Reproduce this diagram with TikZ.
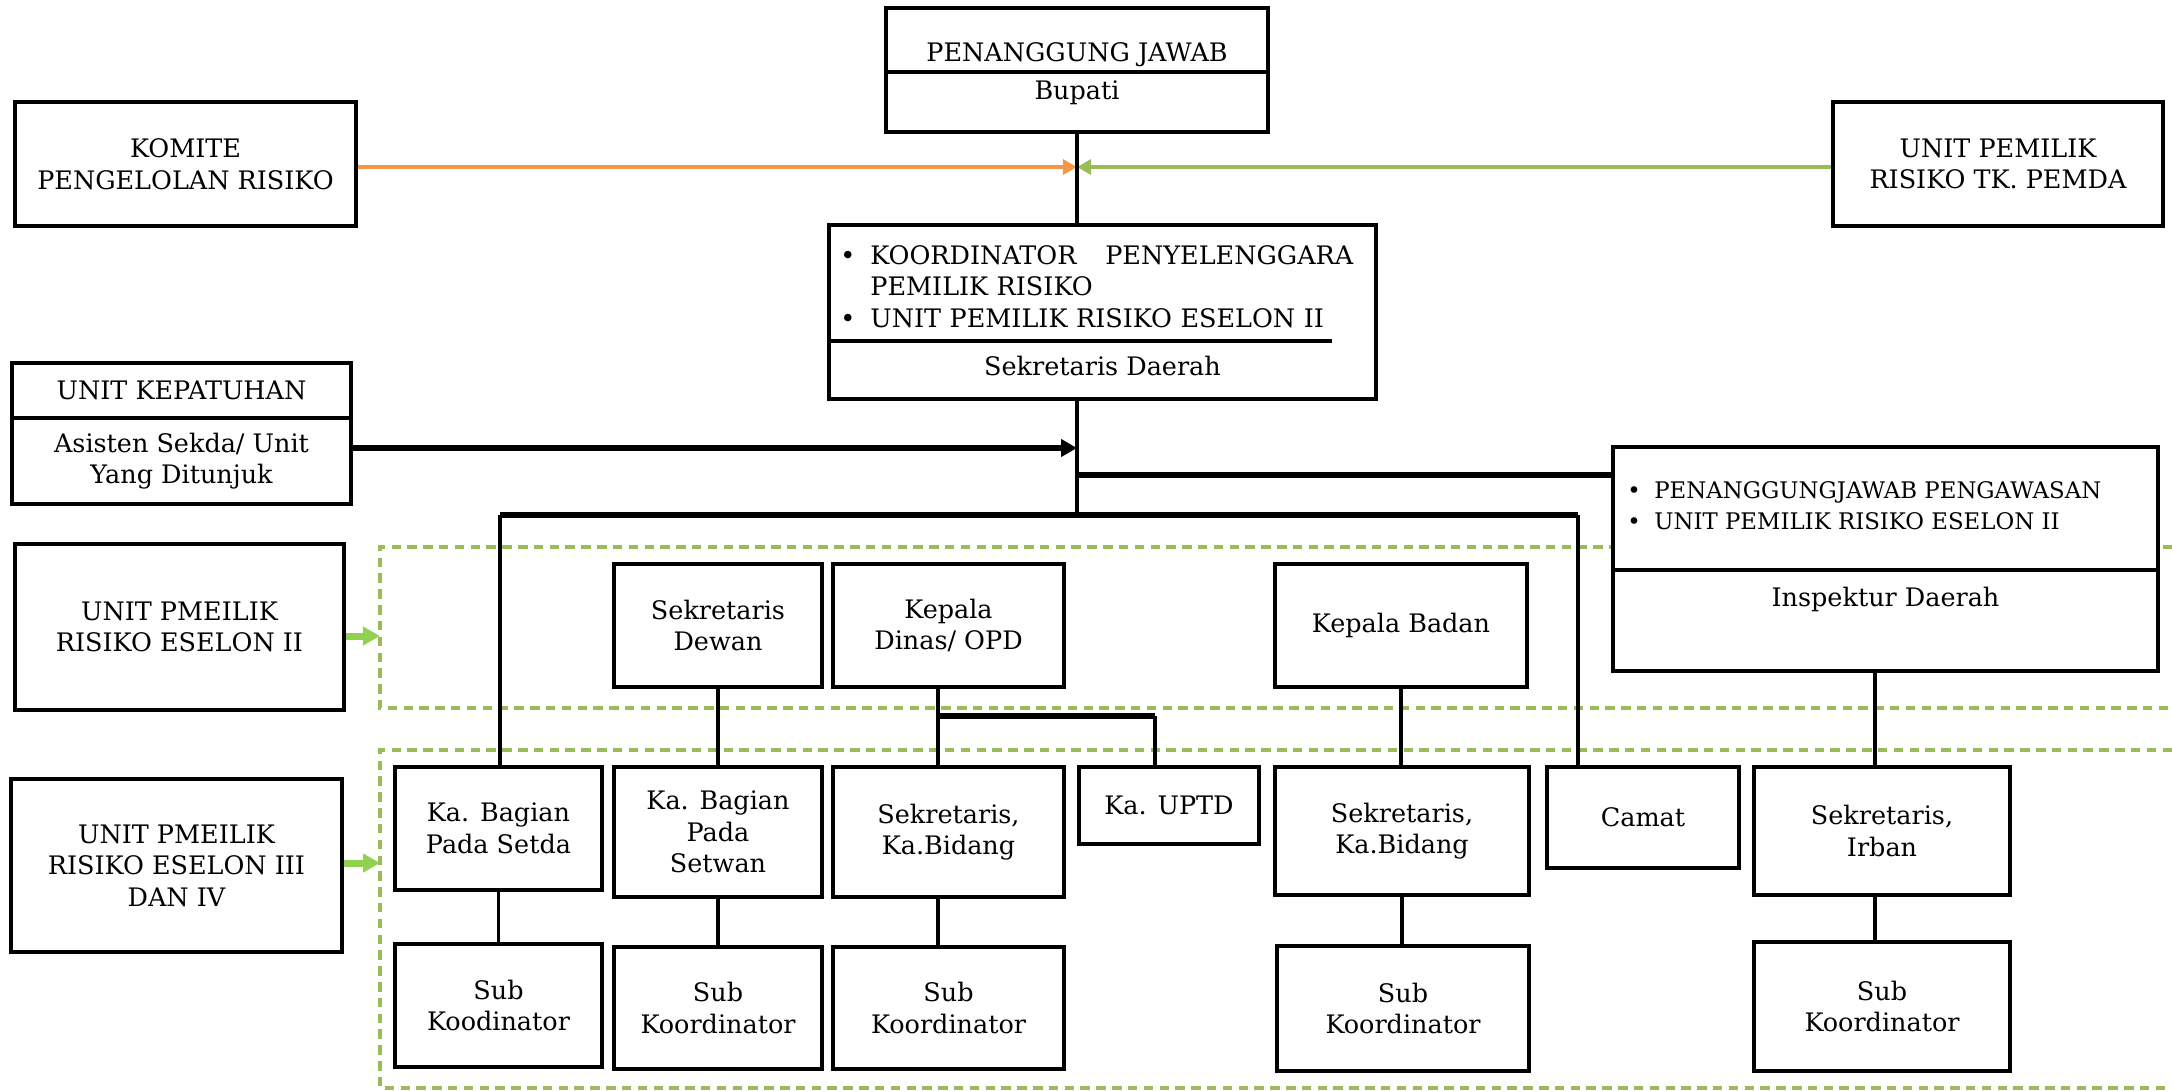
\documentclass[tikz,border=0pt]{standalone}
\usepackage{fontspec}
\setmainfont{DejaVu Serif}
\usetikzlibrary{arrows.meta}
\definecolor{riskorange}{HTML}{F79646}
\definecolor{riskgreen}{HTML}{9BBB59}
\definecolor{risklime}{HTML}{92D050}

\begin{document}
\begin{tikzpicture}[x=0.02cm, y=-0.02cm,
  font=\fontsize{14.5}{18}\selectfont,
  box/.style={draw, line width=2pt, fill=white, align=center, inner sep=0pt},
  link/.style={line width=2pt},
  bus/.style={line width=3.1pt},
  zone/.style={draw=riskgreen, line width=1.9pt, dash pattern=on 5.4pt off 3.6pt},
  bullets/.style={anchor=west, align=left, inner sep=0pt}]
\useasboundingbox (0,0) rectangle (2172,1090);

% zona eselon II dan eselon III/IV
\draw[zone] (2172,547) -- (380,547) -- (380,708) -- (2172,708);
\draw[zone] (2172,750) -- (380,750) -- (380,1088) -- (2172,1088);

% puncak
\node[box, minimum width=7.64cm, minimum height=2.48cm] (pj) at (1077,70) {};
\draw[link] (pj.west |- 0,72) -- (pj.east |- 0,72);
\node[anchor=base] (pjtitle) at (1077,61) {PENANGGUNG JAWAB};
\node[anchor=base] (bupati) at (1077,99) {Bupati};

\node[box, minimum width=6.82cm, minimum height=2.48cm] (komite) at (185.5,164) {KOMITE\\PENGELOLAN RISIKO};
\node[box, minimum width=6.60cm, minimum height=2.48cm] (pemda) at (1998,164) {UNIT PEMILIK\\RISIKO TK. PEMDA};

\node[box, minimum width=10.94cm, minimum height=3.48cm] (sekda) at (1102.5,312) {};
\draw[link] (sekda.west |- 0,341) -- (1332,341);
\node[bullets, text width=10.26cm] (koord) at (840,286.5) {\makebox[0.6cm][l]{\textbullet}KOORDINATOR\hfill PENYELENGGARA\\
  \hspace*{0.6cm}PEMILIK RISIKO\\
  \makebox[0.6cm][l]{\textbullet}UNIT PEMILIK RISIKO ESELON II};
\node[anchor=base] (sekdaname) at (1102.5,375) {Sekretaris Daerah};

\node[box, minimum width=6.78cm, minimum height=1.10cm] (kepatuhan) at (181.5,390.5) {UNIT KEPATUHAN};
\node[box, minimum width=6.78cm, minimum height=1.72cm] (asisten) at (181.5,461) {Asisten Sekda/ Unit\\Yang Ditunjuk};

\node[box, minimum width=10.90cm, minimum height=4.48cm] (insp) at (1885.5,559) {};
\draw[link] (insp.west |- 0,570) -- (insp.east |- 0,570);
\node[bullets, font=\fontsize{13}{17.9}\selectfont] (awas) at (1627,505.5) {\makebox[0.54cm][l]{\textbullet}PENANGGUNGJAWAB PENGAWASAN\\
  \makebox[0.54cm][l]{\textbullet}UNIT PEMILIK RISIKO ESELON II};
\node[anchor=base] (inspname) at (1885.5,606) {Inspektur Daerah};

% label kiri
\node[box, minimum width=6.58cm, minimum height=3.32cm] (es2) at (179.5,627) {UNIT PMEILIK\\RISIKO ESELON II};
\node[box, minimum width=6.62cm, minimum height=3.46cm] (es3) at (176.5,865.5) {UNIT PMEILIK\\RISIKO ESELON III\\DAN IV};

% eselon II
\node[box, minimum width=4.16cm, minimum height=2.46cm] (sdewan) at (718,625.5) {Sekretaris\\Dewan};
\node[box, minimum width=4.62cm, minimum height=2.46cm] (kdinas) at (948.5,625.5) {Kepala\\Dinas/ OPD};
\node[box, minimum width=5.04cm, minimum height=2.46cm] (kbadan) at (1401,625.5) {Kepala Badan};

% eselon III
\node[box, minimum width=4.14cm, minimum height=2.46cm] (setda) at (498.5,828.5) {Ka. Bagian\\Pada Setda};
\node[box, minimum width=4.16cm, minimum height=2.60cm] (setwan) at (718,832) {Ka. Bagian\\Pada\\Setwan};
\node[box, minimum width=4.62cm, minimum height=2.60cm] (kabid) at (948.5,832) {Sekretaris,\\Ka.Bidang};
\node[box, minimum width=3.60cm, minimum height=1.54cm] (uptd) at (1169,805.5) {Ka. UPTD};
\node[box, minimum width=5.08cm, minimum height=2.56cm] (kabidb) at (1402,831) {Sekretaris,\\Ka.Bidang};
\node[box, minimum width=3.84cm, minimum height=2.02cm] (camat) at (1643,817.5) {Camat};
\node[box, minimum width=5.12cm, minimum height=2.56cm] (irban) at (1882,831) {Sekretaris,\\Irban};

% eselon IV
\node[box, minimum width=4.14cm, minimum height=2.46cm] (subA) at (498.5,1005.5) {Sub\\Koodinator};
\node[box, minimum width=4.16cm, minimum height=2.44cm] (subB) at (718,1008) {Sub\\Koordinator};
\node[box, minimum width=4.62cm, minimum height=2.44cm] (subC) at (948.5,1008) {Sub\\Koordinator};
\node[box, minimum width=5.04cm, minimum height=2.50cm] (subD) at (1403,1008.5) {Sub\\Koordinator};
\node[box, minimum width=5.12cm, minimum height=2.58cm] (subE) at (1882,1006.5) {Sub\\Koordinator};

% titik bantu
\coordinate (meet) at (1077,167);
\coordinate (cek) at (1077,448);
\coordinate (ins) at (1077,475);
\coordinate (stem) at (1077,515);
\coordinate (busL) at (500,515);
\coordinate (busR) at (1578,515);
\coordinate (dinasx) at (938,716);
\coordinate (uptdx) at (1155,716);
\coordinate (inspx) at (1875,671);
\coordinate (zone1) at (380,636);
\coordinate (zone2) at (380,863);

% garis
\draw[riskorange, line width=2.3pt, -{Triangle[length=8pt,width=8.5pt]}] (komite.east |- meet) -- (meet);
\draw[riskgreen, line width=2.3pt, -{Triangle[length=8pt,width=8.5pt]}] (pemda.west |- meet) -- (meet);
\draw[link] (pj.south) -- (pj.south |- sekda.north);
\draw[link] (sekda.south -| stem) -- (stem);
\draw[bus, -{Triangle[length=9pt,width=9.6pt]}] (asisten.east |- cek) -- (cek);
\draw[bus] (ins) -- (insp.west |- ins);
\draw[bus] (busL) -- (busR);
\draw[link] (busL) -- (busL |- setda.north);
\draw[link] (busR) -- (busR |- camat.north);
\draw[risklime, line width=4pt, -{Triangle[length=9.6pt,width=10.2pt]}] (es2.east |- zone1) -- (zone1);
\draw[risklime, line width=4pt, -{Triangle[length=9.6pt,width=10.2pt]}] (es3.east |- zone2) -- (zone2);

\draw[link] (sdewan.south) -- (sdewan.south |- setwan.north);
\draw[link] (kdinas.south -| dinasx) -- (kabid.north -| dinasx);
\draw[bus] (dinasx) -- (uptdx);
\draw[link] (uptdx) -- (uptdx |- uptd.north);
\draw[link] (kbadan.south) -- (kbadan.south |- kabidb.north);
\draw[link] (inspx) -- (inspx |- irban.north);

\draw[link] (setda.south) -- (setda.south |- subA.north);
\draw[link] (setwan.south) -- (setwan.south |- subB.north);
\draw[link] (kabid.south -| dinasx) -- (subC.north -| dinasx);
\draw[link] (kabidb.south) -- (kabidb.south |- subD.north);
\draw[link] (irban.south -| inspx) -- (subE.north -| inspx);
\end{tikzpicture}
\end{document}
